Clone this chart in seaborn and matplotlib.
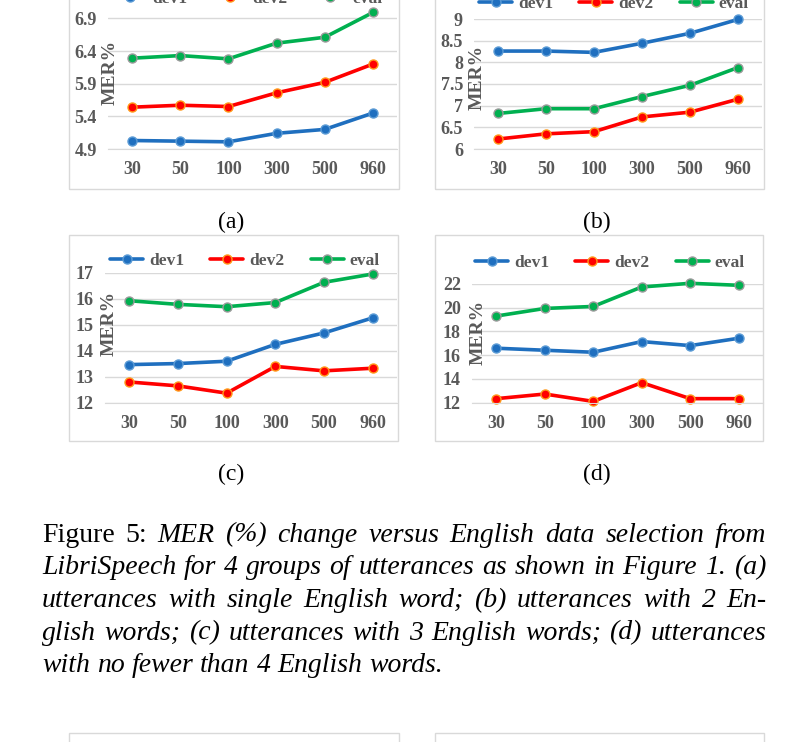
import matplotlib
matplotlib.use('Agg')
import matplotlib.pyplot as plt
import seaborn as sns
import pandas as pd
from matplotlib.patches import Rectangle

# English data selection (hours) on the x axis
sizes = ['30', '50', '100', '300', '500', '960']
series_names = ['dev1', 'dev2', 'eval']

# (a) single English word
a_dev1 = [5.03, 5.02, 5.01, 5.14, 5.20, 5.45]
a_dev2 = [5.54, 5.57, 5.55, 5.76, 5.92, 6.20]
a_eval = [6.29, 6.33, 6.28, 6.52, 6.61, 6.99]

# (b) 2 English words
b_dev1 = [8.26, 8.26, 8.23, 8.44, 8.67, 8.99]
b_dev2 = [6.23, 6.35, 6.40, 6.74, 6.85, 7.15]
b_eval = [6.82, 6.93, 6.93, 7.21, 7.47, 7.88]

# (c) 3 English words
c_dev1 = [13.46, 13.50, 13.59, 14.24, 14.68, 15.26]
c_dev2 = [12.79, 12.64, 12.36, 13.39, 13.22, 13.32]
c_eval = [15.92, 15.78, 15.69, 15.85, 16.63, 16.95]

# (d) 4 or more English words
d_dev1 = [16.59, 16.42, 16.25, 17.15, 16.81, 17.43]
d_dev2 = [12.34, 12.73, 12.11, 13.69, 12.34, 12.34]
d_eval = [19.30, 19.94, 20.11, 21.75, 22.06, 21.89]

a_ticks = [4.9, 5.4, 5.9, 6.4, 6.9]
b_ticks = [6, 6.5, 7, 7.5, 8, 8.5, 9]
c_ticks = [12, 13, 14, 15, 16, 17]
d_ticks = [12, 14, 16, 18, 20, 22]

caption_lines = [
    [('Figure', 'normal'), ('5:', 'normal'), ('MER', 'italic'), ('(%)', 'italic'),
     ('change', 'italic'), ('versus', 'italic'), ('English', 'italic'), ('data', 'italic'),
     ('selection', 'italic'), ('from', 'italic')],
    'LibriSpeech for 4 groups of utterances as shown in Figure 1. (a)',
    'utterances with single English word; (b) utterances with 2 En-',
    'glish words; (c) utterances with 3 English words; (d) utterances',
    'with no fewer than 4 English words.',
]

W, H = 801, 742
GREY = '#d9d9d9'
TXT = '#595959'
colors = {'dev1': '#1f6fbf', 'dev2': '#ff0000', 'eval': '#00b050'}
edges = {'dev1': '#5b9bd5', 'dev2': '#ff9a1a', 'eval': '#9a9a9a'}

sns.set_style('white')
plt.rcParams['font.family'] = ['Liberation Serif', 'DejaVu Serif']

fig = plt.figure(figsize=(W / 100, H / 100), dpi=100)


def fbox(x0, y0, x1, y1):
    # pixel box (y down) -> figure fraction rect
    return [x0 / W, 1 - y1 / H, (x1 - x0) / W, (y1 - y0) / H]


def frame(x0, y0, x1, y1):
    fig.add_artist(Rectangle((x0 / W, 1 - y1 / H), (x1 - x0) / W, (y1 - y0) / H,
                             transform=fig.transFigure, fill=False,
                             edgecolor=GREY, linewidth=1.0))


def panel(box, ylim, ticks, dev1, dev2, ev, leg_xy, lab_xy, tick_fmt):
    ax = fig.add_axes(fbox(*box))
    df = pd.DataFrame({
        'pos': list(range(len(sizes))) * 3,
        'mer': dev1 + dev2 + ev,
        'set': [s for s in series_names for _ in sizes],
    })
    sns.lineplot(data=df, x='pos', y='mer', hue='set', palette=colors,
                 marker='o', markersize=6.5, linewidth=2.6, ax=ax, legend=False,
                 sort=False)
    for line, name in zip(ax.lines, series_names):
        line.set_markeredgecolor(edges[name])
        line.set_markeredgewidth(1.0)
        line.set_clip_on(False)
    ax.set_xlim(-0.5, len(sizes) - 0.5)
    ax.set_ylim(*ylim)
    ax.set_xticks(range(len(sizes)))
    ax.set_xticklabels(sizes)
    ax.set_yticks(ticks)
    ax.set_yticklabels([tick_fmt(t) for t in ticks])
    ax.yaxis.grid(True, color=GREY, linewidth=1.0)
    ax.set_axisbelow(True)
    for side in ['top', 'left', 'right']:
        ax.spines[side].set_visible(False)
    ax.spines['bottom'].set_color(GREY)
    ax.tick_params(length=0, labelsize=13, labelcolor=TXT)
    ax.tick_params(axis='x', pad=9)
    ax.tick_params(axis='y', pad=8)
    for t in ax.get_xticklabels() + ax.get_yticklabels():
        t.set_fontweight('bold')
    ax.set_xlabel('')
    ax.set_ylabel('')
    ax.patch.set_alpha(0)
    fig.text(lab_xy[0] / W, 1 - lab_xy[1] / H, 'MER%', rotation=90, ha='center',
             va='center', fontsize=14, fontweight='bold', color=TXT)
    leg = ax.legend(ax.lines, series_names, loc='center', ncol=3, frameon=False,
                    bbox_to_anchor=(leg_xy[0] / W, 1 - leg_xy[1] / H),
                    bbox_transform=fig.transFigure, handlelength=1.9,
                    handletextpad=0.35, columnspacing=1.5,
                    prop={'weight': 'bold', 'size': 12.5})
    for t in leg.get_texts():
        t.set_color(TXT)
    return ax


def one_dec(t):
    return f'{t:.1f}'


def half(t):
    return f'{t:g}'


def whole(t):
    return f'{t:.0f}'


# chart frames (Excel chart areas)
frame(69, -17, 399, 189)
frame(435, -17, 764, 189)
frame(69, 235, 398, 441)
frame(435, 235, 763, 441)
frame(69, 733, 399, 780)
frame(435, 733, 764, 780)

panel((108, 11.8, 397, 149), (4.9, 7.0), a_ticks, a_dev1, a_dev2, a_eval,
      (248, -1), (110, 72), one_dec)
panel((474, 19, 762, 149), (6, 9), b_ticks, b_dev1, b_dev2, b_eval,
      (614, 4), (477, 77), half)
panel((105, 272.7, 397, 402.5), (12, 17), c_ticks, c_dev1, c_dev2, c_eval,
      (245, 261), (109, 323), whole)
panel((472, 284, 763, 402.7), (12, 22), d_ticks, d_dev1, d_dev2, d_eval,
      (610, 263), (478, 332), whole)

for lab, x, y in [('(a)', 231, 222), ('(b)', 597, 222), ('(c)', 231, 474), ('(d)', 597, 474)]:
    fig.text(x / W, 1 - y / H, lab, ha='center', va='center', fontsize=17, color='black')

# caption, justified like the paper column
cap_fs = 20
x_left, x_right = 42, 766
baselines = [541.5, 574, 607, 639.5, 672]
renderer = fig.canvas.get_renderer()
for i, (line, yb) in enumerate(zip(caption_lines, baselines)):
    if isinstance(line, str):
        words = [(w, 'italic') for w in line.split()]
    else:
        words = line
    texts = [fig.text(0, 1 - yb / H, w, fontstyle=st, fontsize=cap_fs,
                      va='baseline', ha='left', color='black') for w, st in words]
    widths = [t.get_window_extent(renderer).width for t in texts]
    if i < len(caption_lines) - 1:
        gap = (x_right - x_left - sum(widths)) / (len(words) - 1)
    else:
        gap = cap_fs * 100 / 72 * 0.25
    x = x_left
    for t, w in zip(texts, widths):
        t.set_x(x / W)
        x += w + gap

fig.savefig('out.png', dpi=100)
